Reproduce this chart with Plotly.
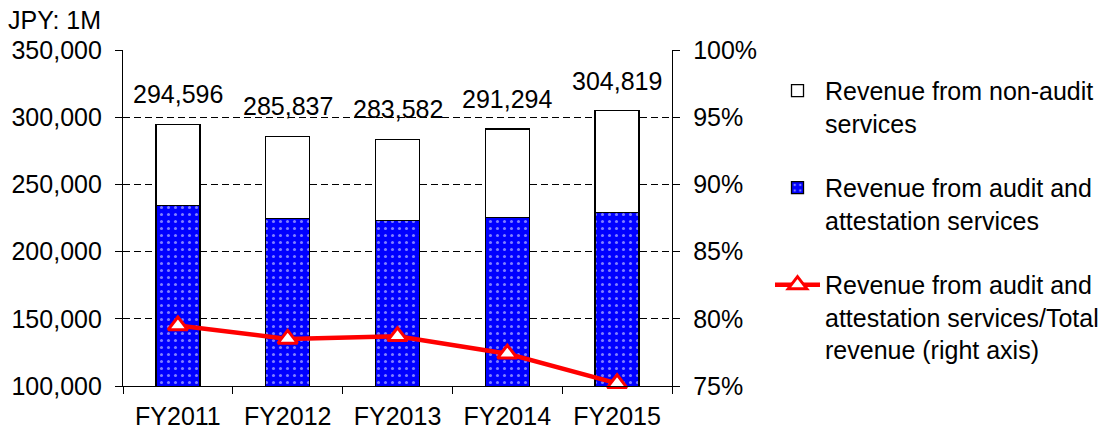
import plotly.graph_objects as go

years = ["FY2011", "FY2012", "FY2013", "FY2014", "FY2015"]
total = [294596, 285837, 283582, 291294, 304819]
audit = [234300, 224500, 223200, 225600, 229200]
ratio = [79.5, 78.5, 78.7, 77.4, 75.2]
non_audit = [t - a for t, a in zip(total, audit)]
total_labels = [f"{t:,}" for t in total]

FONT = "Liberation Sans, Arial, sans-serif"
FS = 25

fig = go.Figure()
fig.add_trace(go.Bar(
    x=years, y=audit, name="Revenue from audit and<br>attestation services",
    legendgroup="b", legendrank=2,
    marker=dict(color="#0000FF", line=dict(color="black", width=1.3),
                pattern=dict(shape=".", fgcolor="white", bgcolor="#0000FF",
                             size=7, solidity=0.15)),
))
fig.add_trace(go.Bar(
    x=years, y=non_audit, name="Revenue from non-audit<br>services",
    legendgroup="a", legendrank=1,
    marker=dict(color="white", line=dict(color="black", width=1.3)),
))
fig.add_trace(go.Scatter(
    x=years, y=ratio, yaxis="y2", mode="lines+markers",
    name="Revenue from audit and<br>attestation services/Total<br>revenue (right axis)",
    legendgroup="c", legendrank=3, cliponaxis=False,
    line=dict(color="#FF0000", width=4.5),
    marker=dict(symbol="triangle-up", size=17, color="white",
                line=dict(color="#FF0000", width=3)),
))

for x, t, lab in zip(years, total, total_labels):
    fig.add_annotation(x=x, y=t, text=lab, showarrow=False, yshift=30,
                       yanchor="middle", font=dict(size=FS, color="black", family=FONT))

fig.add_annotation(xref="paper", yref="paper", x=-0.213, y=1.09, xanchor="left",
                   yanchor="middle", text="JPY: 1M", showarrow=False,
                   font=dict(size=FS, color="black", family=FONT))

fig.update_layout(
    width=1110, height=430,
    margin=dict(l=123, r=438, t=50, b=44, autoexpand=False),
    paper_bgcolor="white", plot_bgcolor="white",
    barmode="stack", bargap=0.6,
    font=dict(family=FONT, size=FS, color="black"),
    showlegend=True,
    legend=dict(xref="container", yref="container", x=0.6937, y=0.842,
                xanchor="left", yanchor="top", valign="top",
                tracegroupgap=29, itemwidth=45, maxheight=1,
                font=dict(size=FS, family=FONT, color="black"),
                bgcolor="rgba(0,0,0,0)"),
    xaxis=dict(showline=True, linecolor="black", linewidth=1.3, automargin=False,
               ticks="outside", tickson="boundaries", ticklen=7,
               tickcolor="black", showgrid=False, ticklabelstandoff=8,
               tickfont=dict(size=FS)),
    yaxis=dict(range=[100000, 350000], dtick=50000, tickformat=",d",
               showline=True, linecolor="black", linewidth=1.3, automargin=False,
               ticks="outside", ticklen=7, tickcolor="black",
               showgrid=True, gridcolor="black", gridwidth=1, griddash="7px,4px",
               zeroline=False, ticklabelstandoff=8, tickfont=dict(size=FS)),
    yaxis2=dict(range=[75, 100], dtick=5, ticksuffix="%", overlaying="y",
                side="right", showline=True, linecolor="black", linewidth=1.3,
                automargin=False,
                ticks="outside", ticklen=7, tickcolor="black", showgrid=False,
                zeroline=False, ticklabelstandoff=8, tickfont=dict(size=FS)),
)

fig.write_html("out.html", config={"displayModeBar": False},
               post_script="document.body.style.margin='0';")
